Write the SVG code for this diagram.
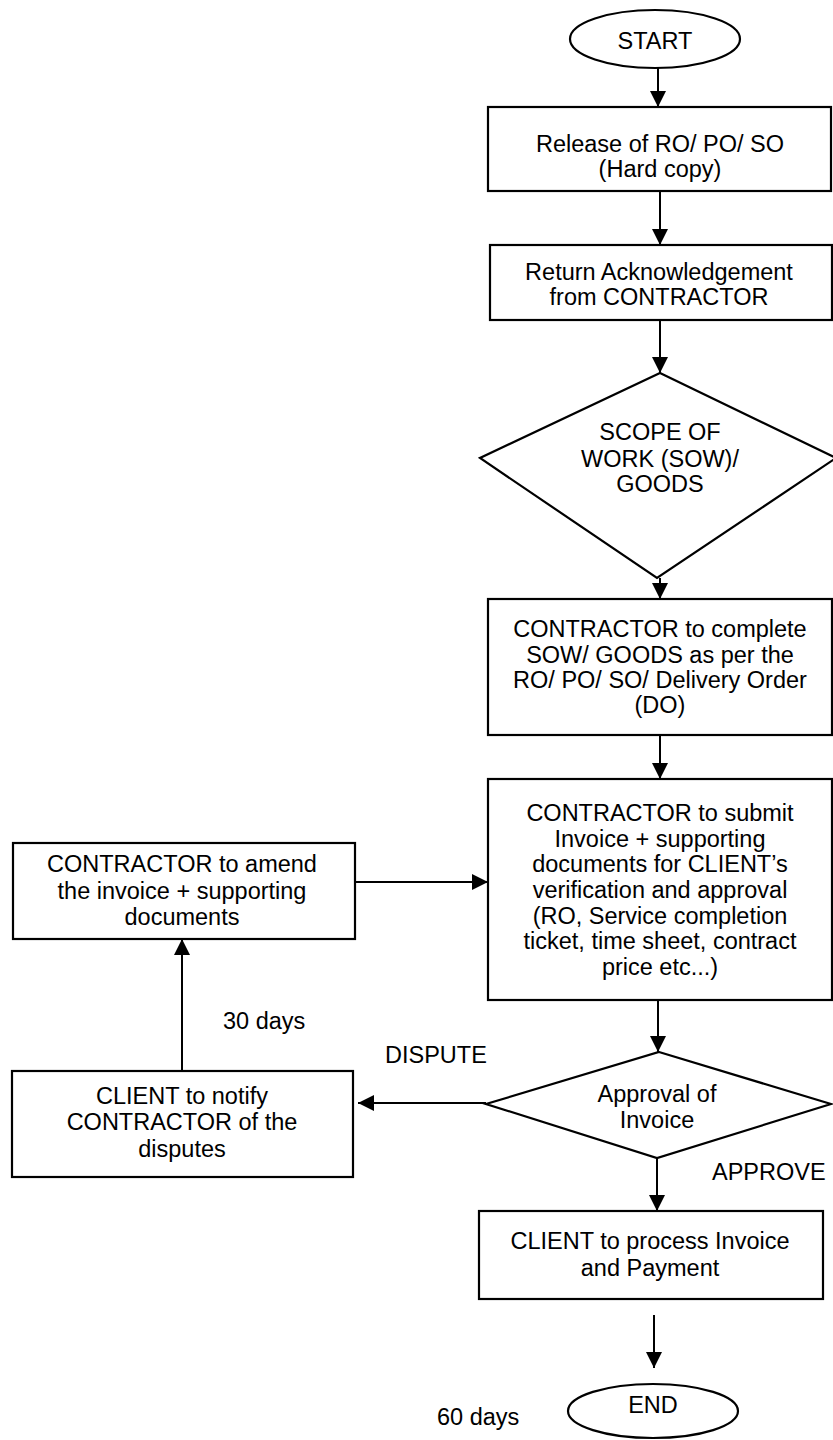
<svg xmlns="http://www.w3.org/2000/svg" width="833" height="1440" viewBox="0 0 833 1440">
<style>
.s{fill:#fff;stroke:#000;stroke-width:2.2}
.t{font-family:"Liberation Sans",Arial,sans-serif;font-size:23.5px;fill:#000;text-anchor:middle}
.l{font-family:"Liberation Sans",Arial,sans-serif;font-size:23.5px;fill:#000}
.c{stroke:#000;stroke-width:2;fill:none;marker-end:url(#ah)}
</style>
<defs>
<marker id="ah" markerUnits="userSpaceOnUse" markerWidth="18" markerHeight="18" refX="16" refY="8" orient="auto">
<path d="M0,0 L16,8 L0,16 z" fill="#000"/>
</marker>
</defs>
<rect width="833" height="1440" fill="#fff"/>
<g id="connectors">
<line class="c" x1="658" y1="68" x2="658" y2="107"/>
<line class="c" x1="660" y1="191" x2="660" y2="245"/>
<line class="c" x1="660" y1="320" x2="660" y2="373"/>
<line class="c" x1="660" y1="578" x2="660" y2="599"/>
<line class="c" x1="660" y1="735" x2="660" y2="779"/>
<line class="c" x1="658" y1="1000" x2="658" y2="1052"/>
<line class="c" x1="657" y1="1158" x2="657" y2="1211"/>
<line class="c" x1="654" y1="1315" x2="654" y2="1368"/>
<line class="c" x1="355" y1="882" x2="488" y2="882"/>
<line class="c" x1="486" y1="1103" x2="358" y2="1103"/>
<line class="c" x1="182" y1="1071" x2="182" y2="939"/>
</g>
<g id="start">
<ellipse class="s" cx="655" cy="39" rx="85" ry="29"/>
<text class="t" x="655" y="49">START</text>
</g>
<g id="release">
<rect class="s" x="488" y="107" width="343" height="84"/>
<text class="t" x="660" y="152">Release of RO/ PO/ SO</text>
<text class="t" x="660" y="177">(Hard copy)</text>
</g>
<g id="acknowledgement">
<rect class="s" x="490" y="245" width="342" height="75"/>
<text class="t" x="659" y="280">Return Acknowledgement</text>
<text class="t" x="659" y="305">from CONTRACTOR</text>
</g>
<g id="scope">
<polygon class="s" points="660,373 836,458 657,578 480,458"/>
<text class="t" x="660" y="440">SCOPE OF</text>
<text class="t" x="660" y="467">WORK (SOW)/</text>
<text class="t" x="660" y="492">GOODS</text>
</g>
<g id="complete">
<rect class="s" x="488" y="599" width="344" height="136"/>
<text class="t" x="660" y="637">CONTRACTOR to complete</text>
<text class="t" x="660" y="663">SOW/ GOODS as per the</text>
<text class="t" x="660" y="688">RO/ PO/ SO/ Delivery Order</text>
<text class="t" x="660" y="713">(DO)</text>
</g>
<g id="submit">
<rect class="s" x="488" y="779" width="344" height="221"/>
<text class="t" x="660" y="821">CONTRACTOR to submit</text>
<text class="t" x="660" y="847">Invoice + supporting</text>
<text class="t" x="660" y="872">documents for CLIENT’s</text>
<text class="t" x="660" y="898">verification and approval</text>
<text class="t" x="660" y="924">(RO, Service completion</text>
<text class="t" x="660" y="949">ticket, time sheet, contract</text>
<text class="t" x="660" y="975">price etc...)</text>
</g>
<g id="amend">
<rect class="s" x="13" y="843" width="342" height="96"/>
<text class="t" x="182" y="872">CONTRACTOR to amend</text>
<text class="t" x="182" y="899">the invoice + supporting</text>
<text class="t" x="182" y="925">documents</text>
</g>
<g id="approval">
<polygon class="s" points="659,1052 831,1104 657,1158 486,1104"/>
<text class="t" x="657" y="1102">Approval of</text>
<text class="t" x="657" y="1128">Invoice</text>
</g>
<g id="notify">
<rect class="s" x="12" y="1071" width="341" height="106"/>
<text class="t" x="182" y="1104">CLIENT to notify</text>
<text class="t" x="182" y="1130">CONTRACTOR of the</text>
<text class="t" x="182" y="1157">disputes</text>
</g>
<g id="process">
<rect class="s" x="479" y="1211" width="344" height="88"/>
<text class="t" x="650" y="1249">CLIENT to process Invoice</text>
<text class="t" x="650" y="1276">and Payment</text>
</g>
<g id="end">
<ellipse class="s" cx="653" cy="1411" rx="85" ry="27"/>
<text class="t" x="653" y="1413">END</text>
</g>
<g id="labels">
<text class="l" x="223" y="1029">30 days</text>
<text class="l" x="385" y="1063">DISPUTE</text>
<text class="l" x="712" y="1180">APPROVE</text>
<text class="l" x="437" y="1425">60 days</text>
</g>
</svg>
